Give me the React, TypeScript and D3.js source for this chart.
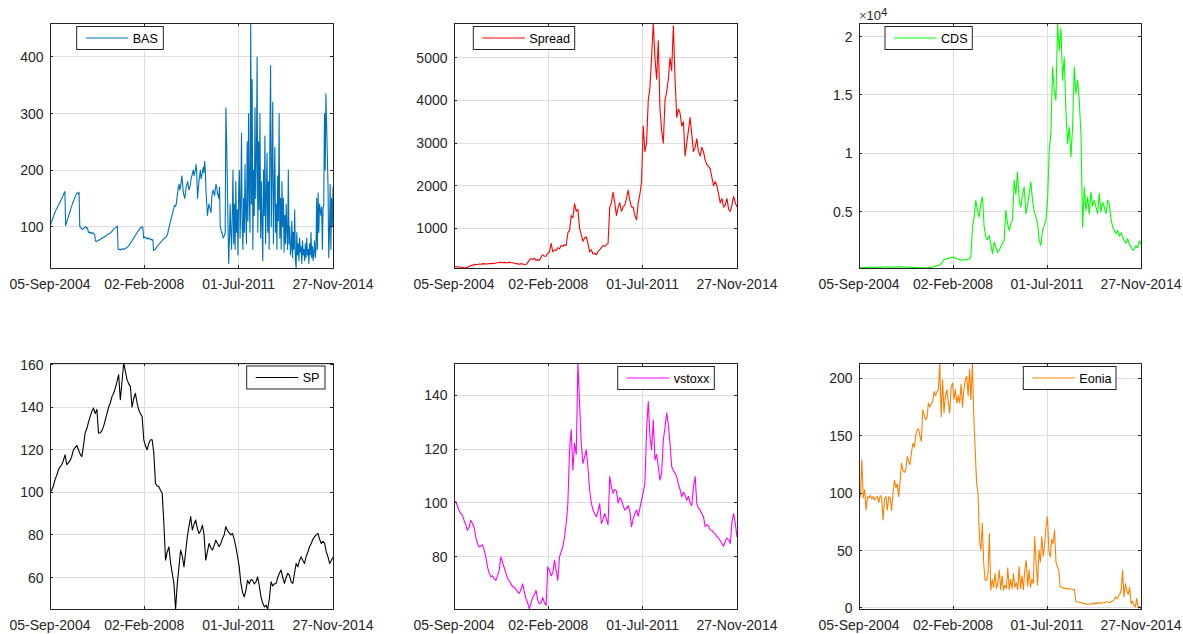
import React from "react";
import * as d3 from "d3";

// Shared time axis
const dateStart = new Date(Date.UTC(2004, 8, 5));
const dateEnd = new Date(Date.UTC(2014, 10, 27));
const xTickDates = [
  new Date(Date.UTC(2004, 8, 5)),
  new Date(Date.UTC(2008, 1, 2)),
  new Date(Date.UTC(2011, 6, 1)),
  new Date(Date.UTC(2014, 10, 27)),
];
const xTickLabels = ["05-Sep-2004", "02-Feb-2008", "01-Jul-2011", "27-Nov-2014"];

// Series, sampled evenly between dateStart and dateEnd
const basValues = [
  100, 104, 108, 111, 115, 118, 122, 125, 128, 131, 133, 136, 138, 141, 143, 146, 148, 151, 154, 157, 160, 162,
  102, 106,
  110, 114, 118, 122, 126, 130, 135, 138, 142, 145, 148, 151, 155, 157, 160, 159,
  158, 161,
  100, 99,
  97, 96, 95, 97, 98, 99, 100, 99, 97, 98,
  90, 91, 89, 90, 88, 89, 90, 88, 87, 86,
  75, 74,
  74, 75, 76, 76, 77, 78, 79, 79, 80, 81, 82, 82, 83, 84, 85, 86, 87, 87, 88, 89, 90, 91, 93, 94, 96, 97, 98, 99,
  100, 101,
  60, 60, 60, 59, 60, 60, 61, 60, 60, 61, 62, 62, 63, 64, 65, 66,
  68, 70, 72, 74, 76, 78, 80, 82, 84, 86, 88, 90, 92, 93, 95, 97, 99, 98,
  100, 98,
  80, 81, 82, 81, 79, 80, 78, 79, 80, 78, 77, 78, 76, 77,
  58, 59,
  60, 61, 63, 65, 67, 68, 70, 71, 72, 74, 75, 77, 78, 79, 80, 81,
  82, 85, 88, 95, 100, 105, 110, 115, 120, 125, 130, 135, 138, 136,
  140, 150, 160, 170, 175, 165, 170, 180, 190, 175, 160, 155,
  150, 160, 170, 175, 180, 172, 165, 170, 175, 185, 190, 195, 200, 190, 195, 200,
  210, 190, 150, 165, 180, 190, 200, 185, 190, 198, 205, 195,
  215, 200, 160, 140, 120, 130, 140, 135, 130, 125, 150, 160, 165, 160, 155, 165, 175, 170, 160, 155, 150, 170,
  100, 95, 90, 88, 80, 82, 85, 90,
  310, 250, 180, 100, 35, 80, 140, 90, 60, 120,
  200, 70, 140, 60, 180, 90, 130, 50, 160, 200, 80, 140, 265, 100, 60, 150, 90, 210, 120, 70,
  250, 110, 300, 150, 90, 460, 140, 360, 60, 200, 120, 310, 150, 220, 400, 90, 250, 130, 300, 80,
  180, 100, 40, 200, 120, 260, 70, 150, 230, 90, 180, 60, 250, 385, 100, 200, 320, 70, 160, 240,
  90, 140, 60, 190, 110, 300, 80, 150, 60, 180, 100, 150, 55, 120, 70, 140, 90, 60, 200, 70,
  100, 50,
  60, 110, 45, 90, 60, 130, 40, 27, 90, 50, 70, 40, 80, 55, 65, 35, 75, 50, 60, 40,
  70, 45, 80, 50, 60, 35, 70, 50, 90, 45, 65, 40, 55, 75, 45, 60, 150, 60, 160, 90,
  140, 130, 120, 135, 60, 130, 140, 300, 200, 335, 280, 225, 170, 45, 90, 175, 60, 150, 100, 170,
];

const spreadValues = [
  110, 105, 100, 95, 90, 85, 80, 73, 90, 110, 130, 140, 150,
  160, 150, 165, 160, 170, 175, 165, 170, 180, 175, 185, 180, 190, 195,
  200, 210, 195, 205, 200, 190, 210, 200, 195, 185, 180, 170, 160, 175, 165, 150,
  150, 200, 260, 290,
  280, 300, 250, 270, 250, 330, 380, 350, 350, 420, 450,
  650,
  450, 500, 480, 550, 520, 600, 580, 620,
  600, 900, 950, 1300, 1250,
  1580, 1400, 1450, 1000, 850,
  700, 780, 800, 650, 450, 500, 400, 420, 380, 460,
  500, 550, 600, 580, 620,
  650, 1500, 1600,
  1850, 1600, 1300, 1500, 1600, 1400, 1500, 1550, 1700, 1900, 1650, 1500,
  1500, 1300, 1200, 1600, 1800, 2100,
  3400, 2800, 3000, 4000, 4300, 5000,
  5815, 5000, 4500, 5400, 3800, 3300,
  3000, 4000, 4200, 4500, 5000, 4700, 5750,
  4500, 3600, 3800, 3700, 3400, 3500, 2700,
  3000, 3300, 3600, 3200, 2800, 2900, 3100, 2800, 2700, 2900,
  2800, 2600, 2500, 2450, 2400, 2200, 2000, 2100, 2000, 1800,
  1600, 1700, 1500, 1550, 1700, 1450, 1400, 1550, 1750, 1600, 1500,
];

const cdsValues = [
  200, 210, 190, 220, 230, 200, 210, 250, 240, 220,
  230, 260, 240, 250, 230, 270, 260, 280, 250, 240,
  260, 230, 250, 270, 280, 300, 260, 250, 240, 230,
  250, 220, 210, 230, 200, 190, 210, 180, 200, 190,
  171, 180, 200, 220, 250, 300, 350, 380,
  400, 500, 700, 900, 950, 1000, 970, 1100, 1050, 1114, 1000, 970, 900, 830, 880, 850, 900, 886, 950, 1100,
  3686, 4500, 5971, 5114, 4543, 5686, 6257, 3686,
  2829, 2600, 2971, 2200, 1400, 2400, 1971, 1500, 1686, 2000, 2300, 2543,
  5114, 4000, 3400, 4000, 4257, 7686, 6500, 8400, 5971, 5400, 6500, 7114,
  4829, 5500, 6543, 7543, 5971, 5000, 4543, 4000, 2543, 2114, 3400, 3800, 4257,
  5971, 10257, 11686, 17400, 15400, 14543, 21171, 18829, 20686, 16257, 18257, 13686,
  10829, 12257, 9686, 12257, 17400, 15114, 16257, 14543, 11686, 3686, 7114,
  5114, 6257, 4829, 6686, 5500, 6000, 5400, 4829, 6543, 5000,
  5800, 5400, 4829, 6000, 5600, 4400, 3686, 3400, 3100, 3400,
  2900, 3200, 2800, 2500, 2300, 2700, 2200, 2000, 1686, 1800,
  2100, 1900, 2500, 2200,
];

const spValues = [
  100, 101, 103, 106, 108, 110.5, 112, 113, 115, 117.6,
  113, 114, 115, 117, 120, 121, 122, 120, 118, 116.8,
  122, 128, 130, 133, 135.7, 138, 139.6, 137, 139, 127.8,
  128, 129, 131, 134, 137, 140, 142, 145, 146.6, 149,
  152, 155.3, 143.5, 152, 160.8, 157, 153, 151, 149.8, 140,
  144, 146.6, 142, 138.8, 137, 135.7, 124.7, 122, 120, 123,
  124.7, 124.7, 118.4, 104.2, 103, 102.7, 101, 99.6, 85.4, 68.2,
  72, 74.4, 67, 62, 57.2, 45.2, 57, 65, 72.9, 70,
  65, 72, 79.2, 84, 88.6, 82.3, 85, 87, 83, 80.7,
  82, 84.6, 80, 68.2, 72, 76, 74, 72.9, 75, 77.6,
  76, 74.4, 76, 78.4, 80, 83.9, 82, 81, 80, 80.7,
  78, 74.4, 70, 65, 57.2, 53, 50.9, 54, 58.7, 57,
  59, 58.7, 57, 58, 60.3, 56, 50.9, 48, 46.2, 47,
  45.2, 50, 58, 56, 57, 57.2, 60, 62, 63.5, 60,
  57.2, 60, 62, 61, 58, 57.2, 62, 66.6, 65, 68,
  69.7, 68, 66.6, 70, 72, 74.4, 76, 78, 79.2, 80,
  80.7, 78, 76, 77, 76, 72, 69.7, 66.6, 68, 69.7,
];

const vstoxxValues = [
  100, 100.5, 99, 97.4, 96, 95.5, 93.6, 92, 89.9, 91,
  93.6, 92.5, 91, 87.4, 85, 83.7, 84, 84.5, 82.5, 80,
  76.3, 74, 72.6, 73, 72, 71.3, 73, 75, 80, 78,
  76, 74, 72, 71.3, 70, 69, 68.8, 68, 67, 66.5,
  68, 70, 67, 64.5, 63, 60.7, 63, 65, 66, 67.6,
  64, 62.6, 63, 65, 63, 62, 76.3, 75, 73, 74,
  78.8, 75, 71.3, 80, 82, 83.7, 87.4, 92.4, 99.8, 119.7,
  127.1, 112.2, 122.1, 118, 151.9, 137, 122, 114.7, 117, 119.7,
  113, 104.8, 100, 97.4, 96, 94.9, 97, 99.8, 92.4, 94,
  96.1, 94, 92, 109.8, 106, 103.6, 105, 104.5, 100, 102,
  101.1, 99, 97.4, 98, 99, 97, 91.2, 94, 96, 97.4,
  95, 98, 101.1, 104, 107.3, 127.1, 137.6, 125, 119.7, 130.8,
  116, 118, 113.5, 108.5, 111, 123.4, 128, 133.3, 129, 122,
  113.5, 112, 111, 109.8, 107, 105, 102.3, 104, 103, 101,
  102.5, 100, 99, 106, 109.8, 99.8, 98, 97.4, 96, 94.9,
  91.2, 92, 91.5, 90, 89.9, 89, 88.5, 87.4, 87, 86,
  85, 84, 86, 87, 86.5, 85, 93, 96.1, 92.4, 87.4,
];

const eoniaValues = [
  100, 97, 129, 96, 102.8, 85.3, 97, 96, 98, 95,
  97, 94, 96, 97, 92, 98, 96, 76.6, 95, 97,
  85.3, 97, 96, 85, 99.9, 111.5, 105, 108, 97, 110,
  126, 120, 118, 120, 131.9, 128, 125, 135, 143.5, 140,
  150, 155.2, 156, 150, 145, 172.6, 168, 164, 166, 178.5,
  175, 178, 180, 188.6, 185, 188, 190, 213.4, 166.8, 198.8,
  170, 185, 190, 180, 169.7, 192, 196, 182, 190, 178.5,
  185, 178.5, 195, 175, 190, 198.8, 201.7, 185, 207.6, 181.4,
  213.4, 166.8, 137.7, 108.6, 99.9, 59, 50.4, 73.7, 38.7, 24.2,
  24, 30, 65, 15.4, 25, 18, 30, 17, 22, 33,
  16, 28, 15.5, 20, 17, 35, 16, 25, 17, 30,
  18, 22, 16, 35.8, 17, 28, 16, 33, 41.6, 19,
  33, 18, 25, 21.3, 62, 38.7, 20, 50.4, 40, 62,
  45, 55, 70.7, 79.5, 50, 44.5, 60, 56, 67.8, 40,
  35.8, 33, 18.3, 18, 17.5, 17, 17.2, 16.8, 17, 16.5,
  16.3, 16, 16, 6.1, 5.5, 5, 4.8, 4.5, 4, 3.8,
  3.6, 3.5, 3.4, 3.2, 3.5, 4, 3.8, 4.2, 4, 4.5,
  4.4, 4.2, 4.6, 4.5, 5, 5.5, 5, 4.8, 5.6, 6,
  7, 9.6, 8, 10, 12, 15.4, 32.9, 9.6, 21.3, 15,
  12, 18, 3.8, 6, 2, 0.9, 8.2, 0, 1.5, -0.9,
];

const seriesNames = ["BAS", "Spread", "CDS", "SP", "vstoxx", "Eonia"];
const seriesColors = ["#0072BD", "#FF0000", "#00FF00", "#000000", "#FF00FF", "#FF8000"];
const seriesValues = [basValues, spreadValues, cdsValues, spValues, vstoxxValues, eoniaValues];

const basTicks = [100, 200, 300, 400];
const spreadTicks = [1000, 2000, 3000, 4000, 5000];
const cdsTicks = [5000, 10000, 15000, 20000];
const cdsTickLabels = ["0.5", "1", "1.5", "2"];
const spTicks = [60, 80, 100, 120, 140, 160];
const vstoxxTicks = [80, 100, 120, 140];
const eoniaTicks = [0, 50, 100, 150, 200];

const yTickSets = [basTicks, spreadTicks, cdsTicks, spTicks, vstoxxTicks, eoniaTicks];
const yTickLabelSets = [
  basTicks.map(String),
  spreadTicks.map(String),
  cdsTickLabels,
  spTicks.map(String),
  vstoxxTicks.map(String),
  eoniaTicks.map(String),
];

// Layout of the 2x3 grid of axes and their legends
const COLS = [
  [50, 333],
  [454, 737],
  [859, 1141],
];
const ROWS = [
  [23, 268],
  [363, 609],
];
const LEGENDS = [
  { x: 76.7, y: 26.5, w: 86.6 },
  { x: 473.3, y: 26.5, w: 101.4 },
  { x: 885, y: 26.5, w: 87.3 },
  { x: 246.7, y: 366, w: 78.3 },
  { x: 617.7, y: 366.5, w: 96.6 },
  { x: 1023.3, y: 366.5, w: 92.7 },
];

const FONT = "'Liberation Sans', Arial, Helvetica, sans-serif";
const AXIS_COLOR = "#262626";
const GRID_COLOR = "#dedede";
const TICK_LEN = 3;

function Panel({ idx }: { idx: number }) {
  const [x0, x1] = COLS[idx % 3];
  const [y0, y1] = ROWS[Math.floor(idx / 3)];
  const values = seriesValues[idx];
  const n = values.length;
  const span = dateEnd.getTime() - dateStart.getTime();
  const dates = d3.range(n).map((i) => new Date(dateStart.getTime() + (i * span) / (n - 1)));

  const x = d3.scaleUtc().domain([dateStart, dateEnd]).range([x0, x1]);
  const ext = d3.extent(values) as [number, number];
  const y = d3.scaleLinear().domain(ext).range([y1, y0]);

  const line = d3
    .line<number>()
    .x((_, i) => x(dates[i]))
    .y((v) => y(v));

  const yTicks = yTickSets[idx];
  const yLabels = yTickLabelSets[idx];
  const leg = LEGENDS[idx];
  const clipId = `clip-${idx}`;

  return (
    <g>
      <defs>
        <clipPath id={clipId}>
          <rect x={x0} y={y0} width={x1 - x0} height={y1 - y0} />
        </clipPath>
      </defs>
      <rect x={x0} y={y0} width={x1 - x0} height={y1 - y0} fill="#fff" />
      {/* grid */}
      <g stroke={GRID_COLOR} strokeWidth={1} shapeRendering="crispEdges">
        {xTickDates.map((d, i) => (
          <line key={`gx${i}`} x1={x(d)} x2={x(d)} y1={y0} y2={y1} />
        ))}
        {yTicks.map((t, i) => (
          <line key={`gy${i}`} x1={x0} x2={x1} y1={y(t)} y2={y(t)} />
        ))}
      </g>
      {/* data */}
      <path
        d={line(values) || ""}
        fill="none"
        stroke={seriesColors[idx]}
        strokeWidth={1.1}
        strokeLinejoin="round"
        clipPath={`url(#${clipId})`}
      />
      {/* box and ticks */}
      <g stroke={AXIS_COLOR} strokeWidth={1} shapeRendering="crispEdges">
        <rect x={x0} y={y0} width={x1 - x0} height={y1 - y0} fill="none" />
        {xTickDates.map((d, i) => (
          <g key={`tx${i}`}>
            <line x1={x(d)} x2={x(d)} y1={y1} y2={y1 - TICK_LEN} />
            <line x1={x(d)} x2={x(d)} y1={y0} y2={y0 + TICK_LEN} />
          </g>
        ))}
        {yTicks.map((t, i) => (
          <g key={`ty${i}`}>
            <line x1={x0} x2={x0 + TICK_LEN} y1={y(t)} y2={y(t)} />
            <line x1={x1} x2={x1 - TICK_LEN} y1={y(t)} y2={y(t)} />
          </g>
        ))}
      </g>
      {/* tick labels */}
      <g fill={AXIS_COLOR} fontFamily={FONT} fontSize={14}>
        {xTickDates.map((d, i) => (
          <text key={`lx${i}`} x={x(d)} y={y1 + 20.5} textAnchor="middle">
            {xTickLabels[i]}
          </text>
        ))}
        {yTicks.map((t, i) => (
          <text key={`ly${i}`} x={x0 - 6.5} y={y(t)} dy="0.36em" textAnchor="end">
            {yLabels[i]}
          </text>
        ))}
      </g>
      {idx === 2 && (
        <text x={x0} y={20} fill={AXIS_COLOR} fontFamily={FONT} fontSize={13}>
          <tspan fill="#555">×</tspan>
          <tspan>10</tspan>
          <tspan fontSize={11.5} dy={-4}>
            4
          </tspan>
        </text>
      )}
      {/* legend */}
      <g>
        <rect
          x={leg.x}
          y={leg.y}
          width={leg.w}
          height={23}
          fill="#fff"
          stroke={AXIS_COLOR}
          strokeWidth={1}
        />
        <line
          x1={leg.x + 9}
          x2={leg.x + 51.5}
          y1={leg.y + 11.5}
          y2={leg.y + 11.5}
          stroke={seriesColors[idx]}
          strokeWidth={1}
        />
        <text
          x={leg.x + 56}
          y={leg.y + 11.5}
          dy="0.36em"
          fontFamily={FONT}
          fontSize={12.6}
          fill="#000"
        >
          {seriesNames[idx]}
        </text>
      </g>
    </g>
  );
}

export default function App() {
  return (
    <svg
      width={1183}
      height={634}
      style={{ position: "absolute", left: 0, top: 0, background: "#fff" }}
    >
      <rect width={1183} height={634} fill="#fff" />
      {seriesNames.map((_, i) => (
        <Panel key={i} idx={i} />
      ))}
    </svg>
  );
}
